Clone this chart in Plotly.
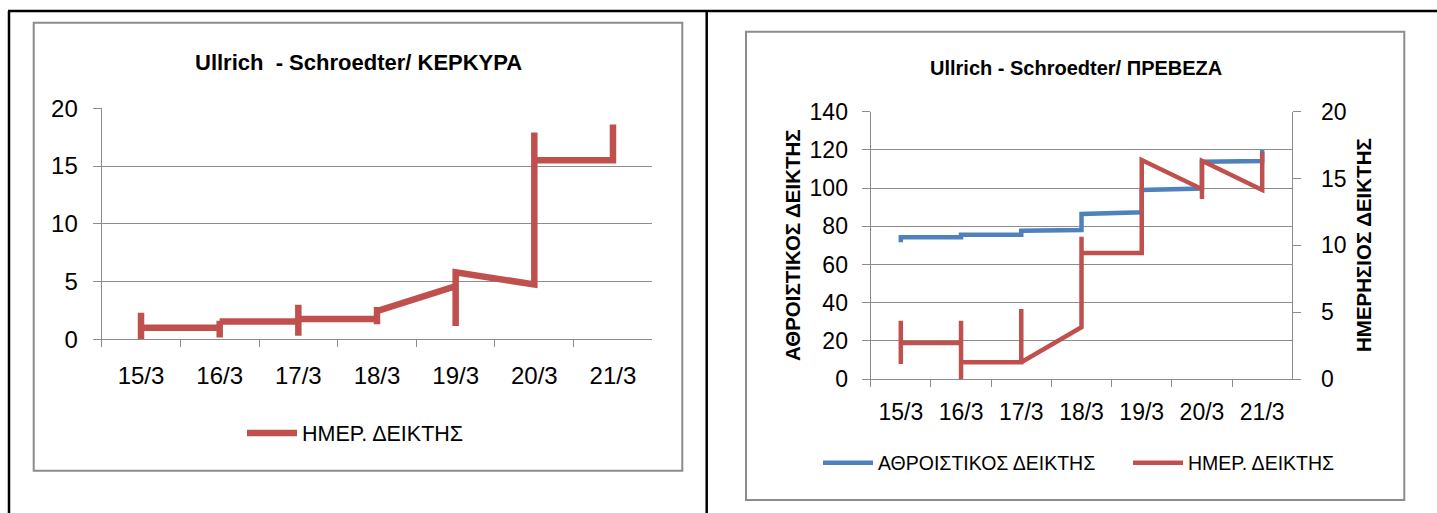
import plotly.graph_objects as go

W, H = 1437, 513

categories = ["15/3", "16/3", "17/3", "18/3", "19/3", "20/3", "21/3"]

# Left chart (ΚΕΡΚΥΡΑ): path of the daily index line as drawn
kerkyra_x = ["15/3", "15/3", "15/3", "16/3", "16/3", "16/3", "16/3", "17/3", "17/3",
             "17/3", "17/3", "18/3", "18/3", "18/3", "18/3", "19/3", "19/3", "19/3",
             "20/3", "20/3", "20/3", "21/3", "21/3"]
kerkyra_y = [0.0, 2.3, 1.0, 1.0, 0.15, 1.6, 1.55, 1.55, 0.3,
             3.0, 1.75, 1.75, 1.3, 2.8, 2.45, 4.6, 1.15, 5.8,
             4.75, 17.9, 15.5, 15.5, 18.6]

# Right chart (ΠΡΕΒΕΖΑ): cumulative index (left axis)
preveza_cum_x = ["15/3", "15/3", "16/3", "16/3", "17/3", "17/3", "18/3", "18/3",
                 "19/3", "19/3", "20/3", "20/3", "21/3", "21/3"]
preveza_cum_y = [71.6, 74.2, 74.2, 75.6, 75.6, 77.7, 78.0, 86.4,
                 87.3, 99.0, 99.8, 113.8, 114.2, 120.0]

# Right chart (ΠΡΕΒΕΖΑ): daily index (right axis)
preveza_day_x = ["15/3", "15/3", "15/3", "16/3", "16/3", "16/3", "16/3", "17/3",
                 "17/3", "17/3", "18/3", "18/3", "18/3", "19/3", "19/3", "20/3",
                 "20/3", "20/3", "21/3", "21/3"]
preveza_day_y = [4.36, 1.12, 2.69, 2.69, 4.36, 0.0, 1.25, 1.25,
                 5.24, 1.25, 3.87, 10.65, 9.43, 9.43, 16.38, 14.21,
                 13.47, 16.33, 14.14, 16.96]

title_left = "Ullrich  - Schroedter/ ΚΕΡΚΥΡΑ"
title_right = "Ullrich - Schroedter/ ΠΡΕΒΕΖΑ"
name_cum = "ΑΘΡΟΙΣΤΙΚΟΣ ΔΕΙΚΤΗΣ"
name_day = "ΗΜΕΡ. ΔΕΙΚΤΗΣ"
ytitle_left = "ΑΘΡΟΙΣΤΙΚΟΣ ΔΕΙΚΤΗΣ"
ytitle_right = "ΗΜΕΡΗΣΙΟΣ ΔΕΙΚΤΗΣ"

RED = "#C0504D"
BLUE = "#4F81BD"
GRID = "#8C8C8C"
FONT = "Liberation Sans, Arial, sans-serif"


def px(x):
    return x / W


def py(y):
    return 1 - y / H


fig = go.Figure()
fig.add_trace(go.Scatter(x=kerkyra_x, y=kerkyra_y, mode="lines", name=name_day,
                         line=dict(color=RED, width=6.5), xaxis="x", yaxis="y",
                         legend="legend"))
fig.add_trace(go.Scatter(x=preveza_cum_x, y=preveza_cum_y, mode="lines", name=name_cum,
                         line=dict(color=BLUE, width=4.5), xaxis="x2", yaxis="y2",
                         legend="legend2"))
fig.add_trace(go.Scatter(x=preveza_day_x, y=preveza_day_y, mode="lines", name=name_day,
                         line=dict(color=RED, width=4.5), xaxis="x2", yaxis="y3",
                         legend="legend2"))

xcommon = dict(type="category", categoryorder="array", categoryarray=categories,
               range=[-0.5, 6.5], tickson="boundaries", ticks="outside", ticklen=7,
               tickcolor=GRID, showline=True, linecolor=GRID, linewidth=1.3,
               showgrid=False, zeroline=False, fixedrange=True, automargin=False)

fig.update_layout(
    width=W, height=H, margin=dict(l=0, r=0, t=0, b=0, pad=0, autoexpand=False),
    paper_bgcolor="white", plot_bgcolor="white",
    font=dict(family=FONT, color="#000000"),
    xaxis=dict(domain=[px(101.7), px(652.3)], anchor="y",
               tickfont=dict(size=24), ticklabelstandoff=15, **xcommon),
    yaxis=dict(domain=[py(339.3), py(108.3)], anchor="x", range=[0, 20], dtick=5,
               ticks="outside", ticklen=8, tickcolor=GRID, showline=True,
               linecolor=GRID, linewidth=1.3, showgrid=True, gridcolor=GRID,
               gridwidth=1.3, zeroline=False, tickfont=dict(size=24),
               ticklabelstandoff=10, automargin=False),
    xaxis2=dict(domain=[px(870.7), px(1292.3)], anchor="y2",
                tickfont=dict(size=23), ticklabelstandoff=12, **xcommon),
    yaxis2=dict(domain=[py(379), py(111.7)], anchor="x2", range=[0, 140], dtick=20,
                ticks="outside", ticklen=8, tickcolor=GRID, showline=True,
                linecolor=GRID, linewidth=1.3, showgrid=True, gridcolor=GRID,
                gridwidth=1.3, zeroline=False, tickfont=dict(size=23),
                ticklabelstandoff=9, automargin=False),
    yaxis3=dict(overlaying="y2", side="right", anchor="x2", range=[0, 20], dtick=5,
                ticks="outside", ticklen=8, tickcolor=GRID, showline=True,
                linecolor=GRID, linewidth=1.3, showgrid=False, zeroline=False,
                tickfont=dict(size=23), ticklabelstandoff=15, automargin=False),
    legend=dict(x=px(242), y=py(433), xanchor="left", yanchor="middle",
                orientation="h", font=dict(size=21.5), itemwidth=50,
                bgcolor="rgba(0,0,0,0)"),
    legend2=dict(x=px(818), y=py(463), xanchor="left", yanchor="middle",
                 orientation="h", font=dict(size=19.5), itemwidth=50,
                 entrywidth=245, entrywidthmode="pixels",
                 bgcolor="rgba(0,0,0,0)"),
    showlegend=True,
)

shapes = [
    # table borders
    dict(type="line", x0=px(8), x1=1, y0=py(11), y1=py(11), line=dict(color="black", width=2.5)),
    dict(type="line", x0=px(9), x1=px(9), y0=py(11), y1=0, line=dict(color="black", width=2.5)),
    dict(type="line", x0=px(706.7), x1=px(706.7), y0=py(11), y1=0, line=dict(color="black", width=2.5)),
    # chart boxes
    dict(type="rect", x0=px(33.7), x1=px(682.3), y0=py(470.7), y1=py(22.7),
         line=dict(color=GRID, width=2)),
    dict(type="rect", x0=px(746), x1=px(1404.3), y0=py(500), y1=py(31.7),
         line=dict(color=GRID, width=2)),
]
for s in shapes:
    s.update(xref="paper", yref="paper", layer="below")
fig.update_layout(shapes=shapes)

annotations = [
    dict(text="<b>%s</b>" % title_left, x=px(358), y=py(62), font=dict(size=22)),
    dict(text="<b>%s</b>" % title_right, x=px(1076), y=py(68), font=dict(size=20)),
    dict(text="<b>%s</b>" % ytitle_left, x=px(792), y=py(245), font=dict(size=20.5),
         textangle=-90),
    dict(text="<b>%s</b>" % ytitle_right, x=px(1363), y=py(245), font=dict(size=20.5),
         textangle=-90),
]
for a in annotations:
    a.update(xref="paper", yref="paper", showarrow=False, xanchor="center",
             yanchor="middle")
fig.update_layout(annotations=annotations)

fig.write_html("out.html", config={"responsive": False, "displayModeBar": False},
               post_script="document.body.style.margin='0';document.body.style.overflow='hidden';")
